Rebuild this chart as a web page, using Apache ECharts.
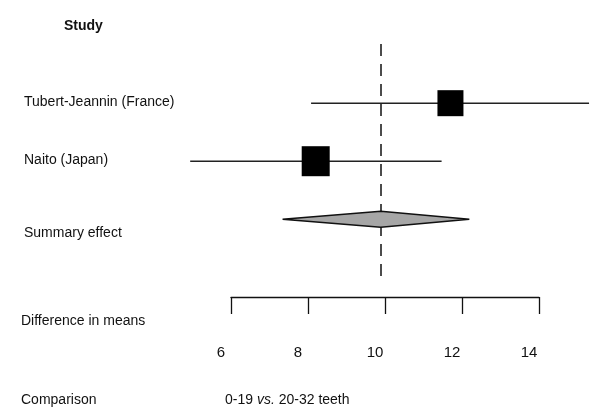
<!DOCTYPE html>
<html>
<head>
<meta charset="utf-8">
<script src="https://cdn.jsdelivr.net/npm/echarts@6/dist/echarts.min.js"></script>
<style>html,body{margin:0;padding:0;background:#fff}#c{width:600px;height:419px}</style>
</head>
<body>
<div id="c"></div>
<script>
const studies = ['Tubert-Jeannin (France)', 'Naito (Japan)'];
const estimates = [11.7, 8.2];
const lower = [8.08, 4.94];
const upper = [15.3, 11.47];
const summaryLabel = 'Summary effect';
const summary = { est: 9.89, lo: 7.34, hi: 12.19 };
const axisTicks = [6, 8, 10, 12, 14];
const headerText = 'Study';
const axisTitle = 'Difference in means';
const comparisonTitle = 'Comparison';
const comparisonText = '0-19 {i|vs.} 20-32 teeth';

const FONT = 'Liberation Sans';
const TXT = '#111';
const chart = echarts.init(document.getElementById('c'));

const ciData = studies.map((s, i) => [lower[i], upper[i], i, s]);
const pointData = studies.map((s, i) => [estimates[i], i]);

chart.setOption({
  animation: false,
  grid: [
    { left: 231, width: 308, top: 44, height: 235 },
    { left: 231, width: 308, top: 200, height: 97 }
  ],
  xAxis: [
    { gridIndex: 0, type: 'value', min: axisTicks[0], max: axisTicks[axisTicks.length - 1], show: false },
    {
      gridIndex: 1, type: 'value', position: 'bottom',
      min: axisTicks[0], max: axisTicks[axisTicks.length - 1], interval: 2,
      axisLine: { show: true, lineStyle: { color: '#111', width: 1.3 } },
      axisTick: { show: true, length: 17, lineStyle: { color: '#111', width: 1.3 } },
      splitLine: { show: false },
      axisLabel: {
        margin: 48, fontFamily: FONT, fontSize: 15, color: TXT,
        padding: [0, 20, 0, 0],
        formatter: v => axisTicks.includes(v) ? String(v) : ''
      }
    }
  ],
  yAxis: [
    { gridIndex: 0, type: 'value', inverse: true, min: -1.02, max: 3.03, show: false },
    { gridIndex: 1, type: 'value', show: false }
  ],
  series: [
    {
      type: 'custom', xAxisIndex: 0, yAxisIndex: 0, clip: false, z: 3,
      data: ciData,
      renderItem: (params, api) => {
        const a = api.coord([api.value(0), api.value(2)]);
        const b = api.coord([api.value(1), api.value(2)]);
        const name = studies[params.dataIndex];
        return {
          type: 'group',
          children: [
            { type: 'line', shape: { x1: a[0], y1: a[1], x2: b[0], y2: b[1] },
              style: { stroke: '#222', lineWidth: 1.5 } },
            { type: 'text', x: 24, y: a[1] - 1,
              style: { text: name, fontFamily: FONT, fontSize: 14, fill: TXT,
                       verticalAlign: 'middle', align: 'left' } }
          ]
        };
      }
    },
    {
      type: 'scatter', xAxisIndex: 0, yAxisIndex: 0, clip: false, z: 4,
      symbol: 'rect',
      symbolSize: (v, p) => p.dataIndex === 0 ? [26, 26] : [28, 30],
      itemStyle: { color: '#000', opacity: 1 },
      data: pointData
    },
    {
      type: 'custom', xAxisIndex: 0, yAxisIndex: 0, clip: false, z: 5,
      data: [[summary.lo, summary.est, summary.hi, 2]],
      renderItem: (params, api) => {
        const y = api.value(3);
        const l = api.coord([api.value(0), y]);
        const c = api.coord([api.value(1), y]);
        const r = api.coord([api.value(2), y]);
        const h = 8;
        return {
          type: 'group',
          children: [
            { type: 'polygon',
              shape: { points: [[l[0], l[1]], [c[0], c[1] - h], [r[0], r[1]], [c[0], c[1] + h]] },
              style: { fill: '#a6a6a6', stroke: '#111', lineWidth: 1.5 } },
            { type: 'text', x: 24, y: c[1] + 14,
              style: { text: summaryLabel, fontFamily: FONT, fontSize: 14, fill: TXT,
                       verticalAlign: 'middle', align: 'left' } }
          ]
        };
      },
      markLine: {
        silent: true, symbol: 'none', z: 1,
        label: { show: false },
        lineStyle: { color: '#111', type: [12, 8], width: 1.5 },
        data: [{ xAxis: summary.est }]
      }
    }
  ],
  graphic: [
    { type: 'text', left: 64, top: 19,
      style: { text: headerText, fontFamily: FONT, fontSize: 14, fontWeight: 'bold', fill: TXT } },
    { type: 'text', left: 21, top: 314,
      style: { text: axisTitle, fontFamily: FONT, fontSize: 14, fill: TXT } },
    { type: 'text', left: 21, top: 393,
      style: { text: comparisonTitle, fontFamily: FONT, fontSize: 14, fill: TXT } },
    { type: 'text', left: 225, top: 393,
      style: { text: comparisonText, fontFamily: FONT, fontSize: 14, fill: TXT,
               rich: { i: { fontFamily: FONT, fontSize: 14, fontStyle: 'italic', fill: TXT } } } }
  ]
});
</script>
</body>
</html>
